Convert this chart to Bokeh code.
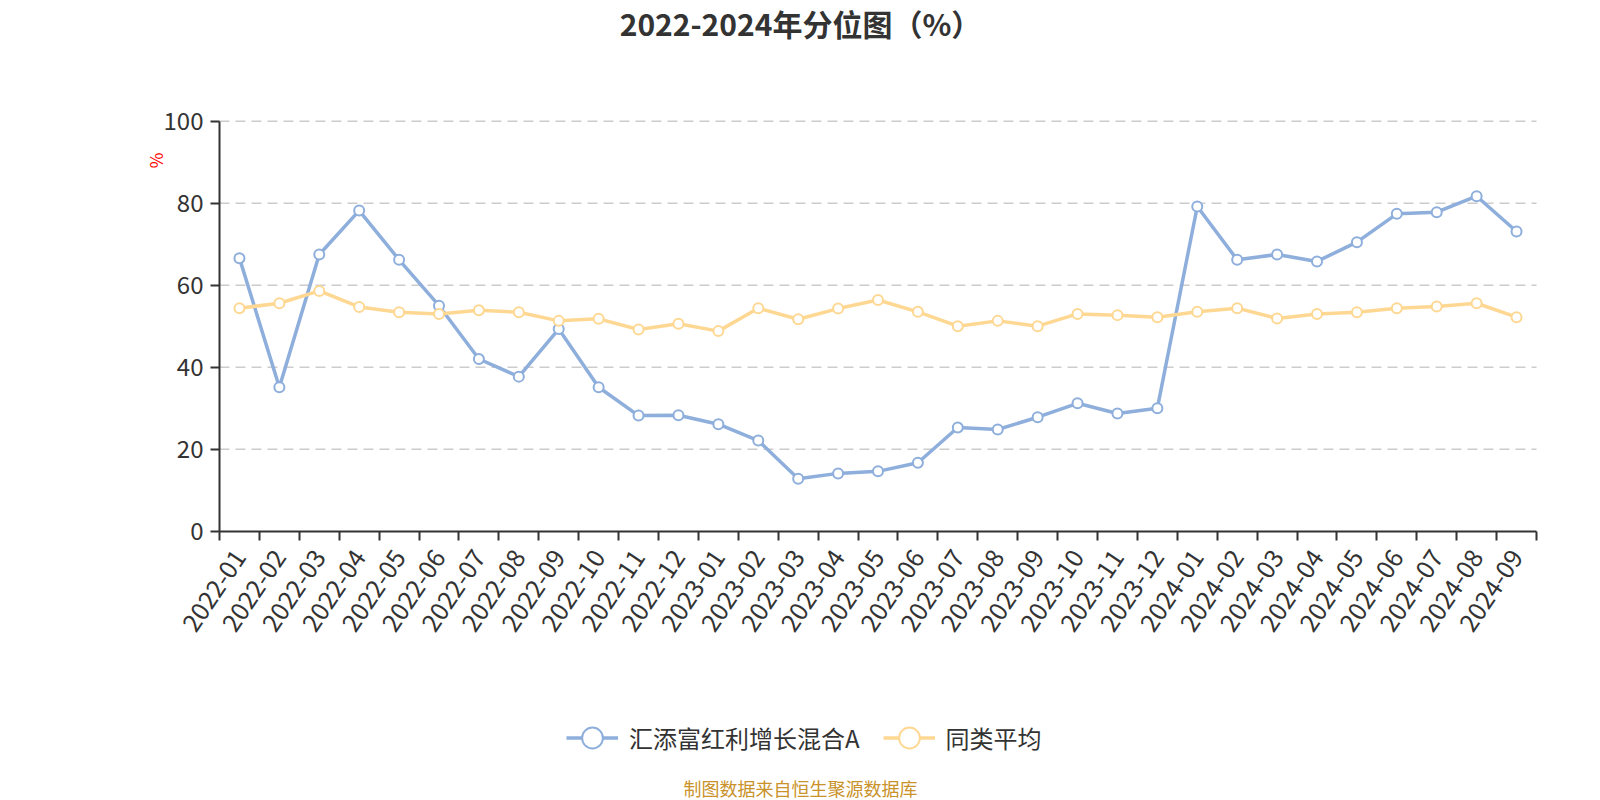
import math
from bokeh.plotting import figure
from bokeh.models import (Range1d, FixedTicker, Label, Legend, LegendItem,
                          ColumnDataSource, LinearAxis)
from bokeh.embed import file_html
from bokeh.resources import INLINE

# ---- data ----
months = [
    "2022-01", "2022-02", "2022-03", "2022-04", "2022-05", "2022-06",
    "2022-07", "2022-08", "2022-09", "2022-10", "2022-11", "2022-12",
    "2023-01", "2023-02", "2023-03", "2023-04", "2023-05", "2023-06",
    "2023-07", "2023-08", "2023-09", "2023-10", "2023-11", "2023-12",
    "2024-01", "2024-02", "2024-03", "2024-04", "2024-05", "2024-06",
    "2024-07", "2024-08", "2024-09",
]
fund = [
    66.6, 35.1, 67.5, 78.2, 66.2, 55.0, 42.0, 37.7, 49.3, 35.1, 28.2, 28.3,
    26.1, 22.1, 12.8, 14.1, 14.6, 16.7, 25.3, 24.8, 27.8, 31.2, 28.7, 30.0,
    79.2, 66.2, 67.5, 65.8, 70.5, 77.4, 77.8, 81.7, 73.1,
]
peer = [
    54.4, 55.6, 58.6, 54.7, 53.4, 53.0, 53.9, 53.4, 51.3, 51.8, 49.2, 50.6,
    48.8, 54.4, 51.7, 54.3, 56.4, 53.5, 50.0, 51.3, 50.0, 53.0, 52.7, 52.2,
    53.5, 54.4, 51.9, 53.0, 53.4, 54.4, 54.8, 55.6, 52.2,
]
y_ticks = [0, 20, 40, 60, 80, 100]
series_names = ["汇添富红利增长混合A", "同类平均"]
title_text = "2022-2024年分位图（%）"
footer_text = "制图数据来自恒生聚源数据库"

BLUE = "#8eaedc"
YELLOW = "#fed893"
CJK = "Noto Sans CJK SC"
TXT = "#333333"

# ---- geometry (pixels of the canvas) ----
W, H = 1600, 800
LEFT, RIGHT, TOP, BOTTOM = 219.0, 1536.0, 120.7, 530.7
n = len(months)
step = (RIGHT - LEFT) / n
ppu = (BOTTOM - TOP) / 100.0
x_range = Range1d(-0.5 - LEFT / step, n - 0.5 + (W - RIGHT) / step)
y_range = Range1d(-(H - BOTTOM) / ppu, 100 + TOP / ppu)

xs = list(range(n))
src = ColumnDataSource(dict(x=xs, fund=fund, peer=peer, month=months))

p = figure(width=W, height=H, min_border=0, x_range=x_range, y_range=y_range,
           x_axis_type=None, y_axis_type=None,
           output_backend="svg", toolbar_location=None)
p.outline_line_color = None
p.background_fill_color = "white"
p.border_fill_color = "white"
p.xgrid.visible = False
p.ygrid.visible = False

# horizontal dashed grid lines (at the y ticks above 0)
gsrc = ColumnDataSource(dict(y=y_ticks[1:]))
p.segment(x0=-0.5, x1=n - 0.5, y0="y", y1="y", source=gsrc,
          line_color="#cccccc", line_width=1.5, line_dash="10 6")

# y axis fixed at the left edge of the category band
ya = LinearAxis(fixed_location=-0.5, bounds=(0, 100),
                ticker=FixedTicker(ticks=y_ticks))
ya.axis_line_color = TXT
ya.axis_line_width = 2
ya.major_tick_line_color = TXT
ya.major_tick_line_width = 2
ya.major_tick_out = 9
ya.major_tick_in = 0
ya.minor_tick_line_color = None
ya.major_label_text_font = CJK
ya.major_label_text_font_size = "24px"
ya.major_label_text_color = TXT
ya.major_label_standoff = 7
p.add_layout(ya, "left")

# x axis fixed at y = 0: labels at centres, ticks at category boundaries
xa = LinearAxis(fixed_location=0, bounds=(-0.5, n - 0.5),
                ticker=FixedTicker(ticks=xs,
                                   minor_ticks=[i - 0.5 for i in range(n + 1)]))
xa.major_label_overrides = {i: m for i, m in zip(xs, months)}
xa.axis_line_color = TXT
xa.axis_line_width = 2
xa.major_tick_line_color = None
xa.major_tick_out = 0
xa.major_tick_in = 0
xa.minor_tick_line_color = TXT
xa.minor_tick_line_width = 2
xa.minor_tick_out = 9
xa.minor_tick_in = 0
xa.major_label_orientation = math.radians(56)
xa.major_label_text_font = CJK
xa.major_label_text_font_size = "25px"
xa.major_label_text_color = TXT
xa.major_label_standoff = 12
p.add_layout(xa, "below")

# series
l1 = p.line("x", "fund", source=src, line_color=BLUE, line_width=3.5)
l2 = p.line("x", "peer", source=src, line_color=YELLOW, line_width=3.5)
s1 = p.scatter("x", "fund", source=src, size=10, fill_color="white",
               line_color=BLUE, line_width=2)
s2 = p.scatter("x", "peer", source=src, size=10, fill_color="white",
               line_color=YELLOW, line_width=2)

legend = Legend(items=[LegendItem(label=series_names[0], renderers=[l1, s1]),
                       LegendItem(label=series_names[1], renderers=[l2, s2])],
                orientation="horizontal", location=(566, H - 765),
                glyph_width=52, glyph_height=55, label_standoff=11,
                spacing=23, padding=0, margin=0,
                border_line_color=None, background_fill_alpha=0,
                label_text_font=CJK, label_text_font_size="24px",
                label_text_color=TXT)
p.add_layout(legend, "center")

# title, axis name, footer (screen units, canvas = frame)
p.add_layout(Label(x=W / 2, y=H - 22, x_units="screen", y_units="screen",
                   text=title_text, text_align="center", text_baseline="middle",
                   text_font=CJK, text_font_size="30px", text_font_style="bold",
                   text_color=TXT))
p.add_layout(Label(x=155, y=H - 160, x_units="screen", y_units="screen",
                   text="%", angle=math.pi / 2, text_align="center",
                   text_baseline="middle", text_font=CJK, text_font_size="17px",
                   text_color="#ff0000"))
p.add_layout(Label(x=W / 2, y=H - 787, x_units="screen", y_units="screen",
                   text=footer_text, text_align="center", text_baseline="middle",
                   text_font=CJK, text_font_size="18px", text_color="#c9922a"))

open("out.html", "w").write(file_html(p, INLINE))
